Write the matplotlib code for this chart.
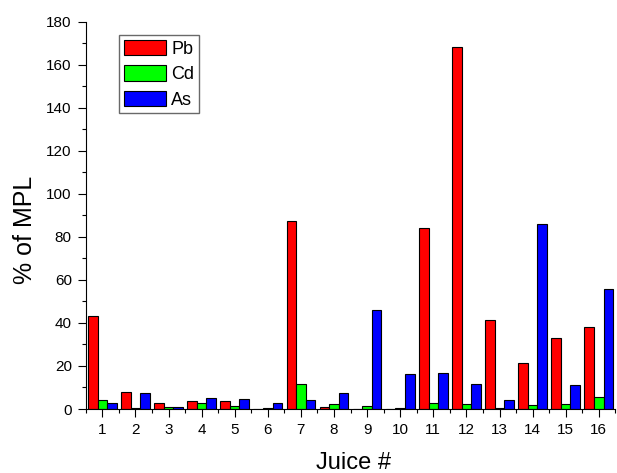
import matplotlib
matplotlib.use("Agg")
import matplotlib.pyplot as plt
import numpy as np
from matplotlib.ticker import MultipleLocator

plt.rcParams['font.family'] = ['Liberation Sans', 'DejaVu Sans']

juices = list(range(1, 17))
pb = [43.2, 7.9, 2.8, 3.5, 3.8, 0.0, 87.4, 0.9, 0.0, 0.0, 84.1, 168.4, 41.4, 21.4, 32.8, 38.2]
cd = [4.2, 0.4, 0.9, 2.9, 1.4, 0.4, 11.6, 2.3, 1.2, 0.5, 2.8, 2.3, 0.5, 1.9, 2.3, 5.4]
as_ = [2.9, 7.4, 1.0, 5.3, 4.6, 2.9, 4.0, 7.4, 46.0, 16.3, 16.9, 11.8, 4.3, 86.1, 11.3, 56.0]

fig = plt.figure(figsize=(6.17, 4.73), dpi=100)
ax = fig.add_axes([85.75/617, 64/473, 529.6/617, 387.3/473])

x = np.array(juices)
w = 0.29
kw = dict(width=w, edgecolor='black', linewidth=0.8)
ax.bar(x - w, pb, color='#FF0000', label='Pb', **kw)
ax.bar(x, cd, color='#00FF00', label='Cd', **kw)
ax.bar(x + w, as_, color='#0000FF', label='As', **kw)

ax.set_xlim(0.5, 16.5)
ax.set_ylim(0, 180)
ax.set_xticks(juices)
ax.xaxis.set_minor_locator(MultipleLocator(0.5))
ax.yaxis.set_major_locator(MultipleLocator(20))
ax.yaxis.set_minor_locator(MultipleLocator(10))
ax.tick_params(which='major', length=6, width=0.8, direction='out', labelsize=11, pad=4)
ax.tick_params(which='minor', length=3, width=0.8, direction='out')
ax.spines['top'].set_visible(False)
ax.spines['right'].set_visible(False)

ax.set_xlabel('Juice #', fontsize=17)
ax.set_ylabel('% of MPL', fontsize=18)
ax.xaxis.set_label_coords(0.5056, -0.111)
ax.yaxis.set_label_coords(-0.092, 0.463)

leg = ax.legend(loc='upper left', bbox_to_anchor=(119/617, 1 - 35/473),
                bbox_transform=fig.transFigure, borderaxespad=0,
                fontsize=13, handlelength=2.35, handleheight=0.95,
                handletextpad=0.3, labelspacing=0.42, borderpad=0.25,
                fancybox=False, frameon=True)
leg.get_frame().set_edgecolor('#444444')
leg.get_frame().set_linewidth(1.0)

fig.savefig('out.png', dpi=100)
